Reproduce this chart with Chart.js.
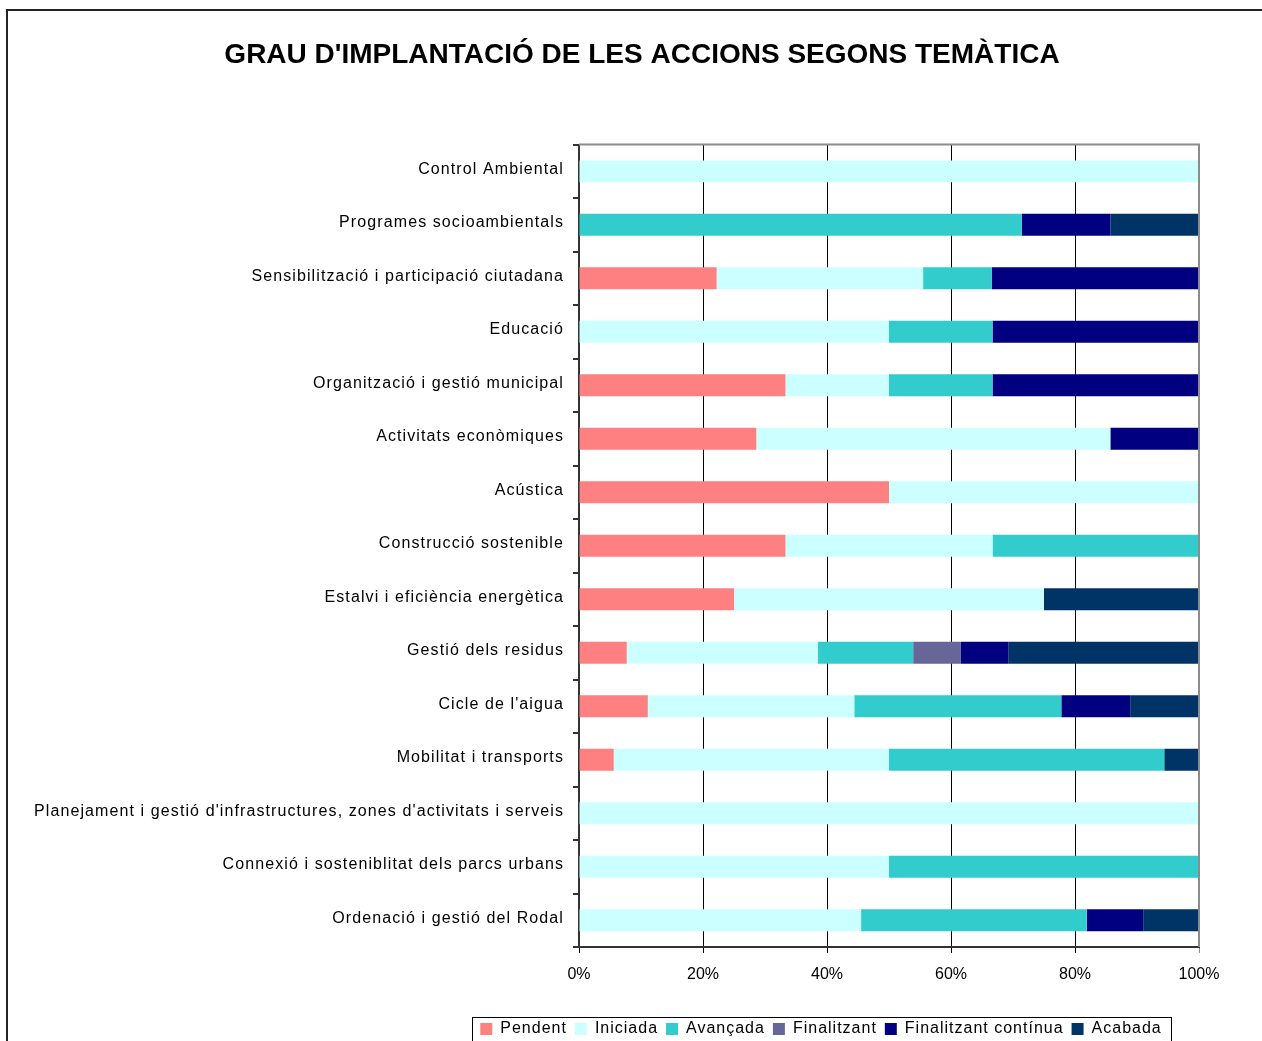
<!DOCTYPE html>
<html>
<head>
<meta charset="utf-8">
<script src="https://cdn.jsdelivr.net/npm/chart.js@4"></script>
<style>
html, body { margin: 0; padding: 0; background: #fff; overflow: hidden; }
#frame { position: absolute; left: 6px; top: 9px; width: 1400px; height: 1200px; border-top: 2px solid #222; border-left: 2px solid #222; }
#wrap { position: absolute; left: 0; top: 0; width: 1262px; height: 1047px; }
</style>
</head>
<body>
<div id="frame"></div>
<div id="wrap"><canvas id="chart" width="1262" height="1047"></canvas></div>
<script>
const categories = [
    'Control Ambiental',
    'Programes socioambientals',
    'Sensibilització i participació ciutadana',
    'Educació',
    'Organització i gestió municipal',
    'Activitats econòmiques',
    'Acústica',
    'Construcció sostenible',
    'Estalvi i eficiència energètica',
    'Gestió dels residus',
    "Cicle de l'aigua",
    'Mobilitat i transports',
    "Planejament i gestió d'infrastructures, zones d'activitats i serveis",
    'Connexió i sosteniblitat dels parcs urbans',
    'Ordenació i gestió del Rodal'
];

// percentages per category (top to bottom)
const pendent = [0, 0, 22.2, 0, 33.3, 28.6, 50, 33.3, 25, 7.7, 11.1, 5.6, 0, 0, 0];
const iniciada = [100, 0, 33.3, 50, 16.7, 57.1, 50, 33.4, 50, 30.8, 33.3, 44.4, 100, 50, 45.5];
const avancada = [0, 71.4, 11.1, 16.7, 16.7, 0, 0, 33.3, 0, 15.4, 33.4, 44.4, 0, 50, 36.4];
const finalitzant = [0, 0, 0, 0, 0, 0, 0, 0, 0, 7.7, 0, 0, 0, 0, 0];
const finalitzantContinua = [0, 14.3, 33.4, 33.3, 33.3, 14.3, 0, 0, 0, 7.7, 11.1, 0, 0, 0, 9.1];
const acabada = [0, 14.3, 0, 0, 0, 0, 0, 0, 25, 30.7, 11.1, 5.6, 0, 0, 9.0];

const seriesNames = ['Pendent', 'Iniciada', 'Avançada', 'Finalitzant', 'Finalitzant contínua', 'Acabada'];
const seriesData = [pendent, iniciada, avancada, finalitzant, finalitzantContinua, acabada];
const seriesColors = ['#FF8080', '#CCFFFF', '#33CCCC', '#666699', '#000080', '#003366'];

const xTickLabels = ['0%', '20%', '40%', '60%', '80%', '100%'];

const FONT = "'Liberation Sans', Arial, sans-serif";

// Excel-like letter spacing on the category labels and legend
const spacingPlugin = {
    id: 'spacing',
    beforeLayout(chart) {
        const y = chart.scales.y;
        if (y && !y._spaced) {
            const orig = y.drawLabels;
            y.drawLabels = function (area) {
                this.ctx.save();
                this.ctx.letterSpacing = '1.1px';
                orig.call(this, area);
                this.ctx.restore();
            };
            y._spaced = true;
        }
        const lg = chart.legend;
        if (lg && !lg._spaced) {
            const fit = lg.fit, draw = lg.draw;
            lg.fit = function () {
                this.ctx.save();
                this.ctx.letterSpacing = '1px';
                fit.call(this);
                this.ctx.restore();
            };
            lg.draw = function () {
                this.ctx.save();
                this.ctx.letterSpacing = '1px';
                draw.call(this);
                this.ctx.restore();
            };
            lg._spaced = true;
        }
    },
    afterLayout(chart) {
        // centre title and legend like the original sheet
        const t = chart.titleBlock;
        const tw = t.right - t.left;
        t.left = 642 - tw / 2; t.right = 642 + tw / 2;
        const lg = chart.legend;
        const lw = lg.right - lg.left;
        lg.left = 821 - lw / 2; lg.right = 821 + lw / 2;
    }
};

const frameBits = {
    id: 'frameBits',
    afterDatasetsDraw(chart) {
        const {ctx, chartArea: a} = chart;
        ctx.save();
        ctx.strokeStyle = '#8c8c8c';
        ctx.lineWidth = 2;
        ctx.beginPath();
        ctx.moveTo(a.left, a.top);
        ctx.lineTo(a.right, a.top);
        ctx.lineTo(a.right, a.bottom);
        ctx.stroke();
        ctx.restore();
    },
    afterDraw(chart) {
        const {ctx, legend} = chart;
        const boxes = legend.legendHitBoxes;
        if (!boxes || !boxes.length) return;
        const l = Math.min(...boxes.map(b => b.left));
        const r = Math.max(...boxes.map(b => b.left + b.width));
        ctx.save();
        ctx.strokeStyle = '#000';
        ctx.lineWidth = 1;
        ctx.strokeRect(Math.round(l - 8) + 0.5, Math.round(legend.top + 4) + 0.5, Math.round(r - l + 18), 60);
        ctx.restore();
    }
};

new Chart(document.getElementById('chart'), {
    type: 'bar',
    data: {
        labels: categories,
        datasets: seriesNames.map((name, i) => ({
            label: name,
            data: seriesData[i],
            backgroundColor: seriesColors[i],
            borderWidth: 0,
            barPercentage: 0.41,
            categoryPercentage: 1
        }))
    },
    options: {
        indexAxis: 'y',
        responsive: false,
        animation: false,
        devicePixelRatio: 1,
        layout: { padding: { left: 0, right: 63, top: 0, bottom: 0 } },
        scales: {
            x: {
                stacked: true,
                min: 0,
                max: 100,
                ticks: {
                    stepSize: 20,
                    padding: 12,
                    color: '#000',
                    font: { family: FONT, size: 16 },
                    callback: (v, i) => xTickLabels[i]
                },
                grid: {
                    color: ctx => ctx.index === xTickLabels.length - 1 ? '#8c8c8c' : '#000',
                    lineWidth: 1,
                    tickLength: 6
                },
                border: { color: '#333', width: 2 },
                afterFit(scale) {
                    scale.height = 66;
                    scale.paddingLeft = 0;
                    scale.paddingRight = 0;
                }
            },
            y: {
                stacked: true,
                ticks: {
                    padding: 9,
                    labelOffset: -2,
                    color: '#000',
                    font: { family: FONT, size: 16 }
                },
                grid: {
                    drawOnChartArea: false,
                    color: '#333',
                    tickLength: 6,
                    lineWidth: 2
                },
                border: { color: '#333', width: 2 },
                afterFit(scale) {
                    scale.width = 579;
                    scale.paddingTop = 0;
                    scale.paddingBottom = 0;
                }
            }
        },
        plugins: {
            title: {
                display: true,
                text: "GRAU D'IMPLANTACIÓ DE LES ACCIONS SEGONS TEMÀTICA",
                color: '#000',
                font: { family: FONT, size: 28, weight: 'bold' },
                padding: { top: 38, bottom: 73 }
            },
            legend: {
                position: 'bottom',
                labels: {
                    color: '#000',
                    boxWidth: 12,
                    boxHeight: 12,
                    padding: 8,
                    font: { family: FONT, size: 16 }
                }
            },
            tooltip: { enabled: false }
        }
    },
    plugins: [spacingPlugin, frameBits]
});
</script>
</body>
</html>
